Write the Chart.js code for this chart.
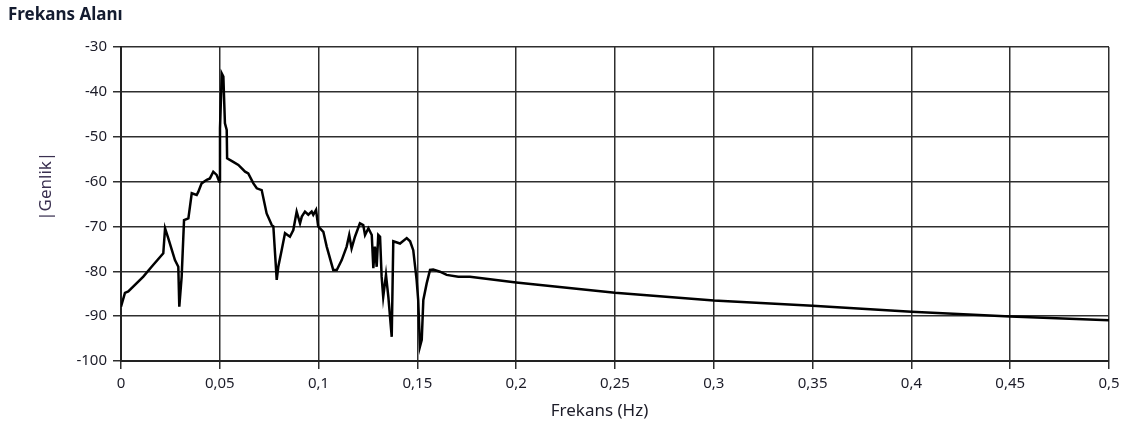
<!DOCTYPE html>
<html lang="tr">
<head>
    <meta charset="UTF-8">
    <title>Frekans Alanı</title>
    <script src="https://cdn.jsdelivr.net/npm/chart.js"></script>
    <style>
        body { margin: 0; background: #fff; }
    </style>
</head>
<body>

<canvas id="frekansChart" width="1126" height="427"></canvas>

<script>
    // spektrum verisi: frekans (Hz) ve genlik (dB)
    const frekans = [
        0.000, 0.0020, 0.0037, 0.0113, 0.0155, 0.0214, 0.0223, 0.0239, 0.0273, 0.0290,
        0.0295, 0.0307, 0.0319, 0.0341, 0.0349, 0.0358, 0.0383, 0.0391, 0.0408, 0.0434,
        0.0450, 0.0467, 0.0484, 0.0497, 0.0501, 0.0510, 0.0518, 0.0526, 0.0535, 0.0537,
        0.0568, 0.0594, 0.0628, 0.0644, 0.0670, 0.0687, 0.0712, 0.0737, 0.0763, 0.0771,
        0.0788, 0.0796, 0.0813, 0.0830, 0.0855, 0.0872, 0.0889, 0.0906, 0.0915, 0.0931,
        0.0948, 0.0965, 0.0973, 0.0987, 0.0998, 0.1024, 0.1041, 0.1074, 0.1092, 0.1117,
        0.1142, 0.1155, 0.1167, 0.1184, 0.1209, 0.1226, 0.1235, 0.1252, 0.1269, 0.1277,
        0.1285, 0.1294, 0.1302, 0.1311, 0.1319, 0.1327, 0.1341, 0.1353, 0.1370, 0.1378,
        0.1412, 0.1446, 0.1463, 0.1479, 0.1496, 0.1504, 0.1513, 0.1522, 0.1530, 0.1547,
        0.1564, 0.1580, 0.1614, 0.1648, 0.1707, 0.1766, 0.20, 0.25, 0.30, 0.35,
        0.40, 0.45, 0.50
    ];
    const genlik = [
        -87.9, -84.8, -84.5, -81.2, -79.0, -76.0, -70.4, -72.6, -77.5, -79.0,
        -87.9, -81.2, -68.6, -68.2, -65.6, -62.6, -63.0, -62.3, -60.4, -59.6,
        -59.3, -57.8, -58.5, -60.0, -48.1, -35.9, -36.6, -47.0, -48.5, -54.8,
        -55.6, -56.3, -57.8, -58.2, -60.4, -61.5, -61.9, -67.1, -69.7, -70.0,
        -81.9, -79.0, -75.3, -71.5, -72.3, -70.8, -66.7, -69.3, -67.8, -66.7,
        -67.4, -66.7, -67.4, -66.3, -70.0, -71.2, -74.5, -79.7, -79.7, -77.5,
        -74.5, -71.9, -74.9, -72.3, -69.3, -69.7, -71.9, -70.4, -71.9, -79.3,
        -74.5, -79.0, -71.9, -72.3, -81.2, -85.7, -80.8, -85.7, -94.6, -73.3,
        -73.8, -72.6, -73.3, -75.3, -81.9, -86.4, -96.8, -95.3, -86.4, -82.7,
        -79.7, -79.6, -80.1, -80.8, -81.2, -81.2, -82.5, -84.8, -86.5, -87.7,
        -89.0, -90.1, -90.9
    ];

    const yazi = '"Noto Sans", "Open Sans", sans-serif';
    const izgara = '#2e2e2e';

    const noktalar = frekans.map((f, i) => ({ x: f, y: genlik[i] }));

    const ctx = document.getElementById('frekansChart').getContext('2d');
    new Chart(ctx, {
        type: 'line',
        data: {
            datasets: [{
                data: noktalar,
                borderColor: '#000',
                borderWidth: 2.5,
                pointRadius: 0,
                tension: 0,
                fill: false
            }]
        },
        options: {
            responsive: false,
            animation: false,
            layout: { padding: { left: 8, right: 17, top: 0, bottom: 0 } },
            plugins: {
                legend: { display: false },
                tooltip: { enabled: false },
                title: {
                    display: true,
                    text: 'Frekans Alanı',
                    align: 'start',
                    color: '#141c30',
                    font: { family: yazi, size: 17, weight: 'bold' },
                    padding: { top: 5, bottom: 21.6 }
                }
            },
            scales: {
                x: {
                    type: 'linear',
                    min: 0,
                    max: 0.5,
                    afterFit: s => { s.height = 66; },
                    ticks: {
                        stepSize: 0.05,
                        padding: 6,
                        color: '#1c1c28',
                        font: { family: yazi, size: 15 },
                        maxRotation: 0,
                        callback: v => String(Math.round(v * 100) / 100).replace('.', ',')
                    },
                    grid: { color: izgara, lineWidth: 1.5, tickLength: 8 },
                    border: { color: '#222', width: 2 },
                    title: {
                        display: true,
                        text: 'Frekans (Hz)       ',
                        color: '#1c1c28',
                        font: { family: yazi, size: 17 },
                        padding: { top: 0, bottom: 6 }
                    }
                },
                y: {
                    min: -100,
                    max: -30,
                    afterFit: s => { s.width = 113; },
                    ticks: {
                        stepSize: 10,
                        padding: 6,
                        color: '#1c1c28',
                        font: { family: yazi, size: 15 },
                        callback: v => String(v)
                    },
                    grid: { color: izgara, lineWidth: 1.5, tickLength: 8 },
                    border: { color: '#222', width: 2 },
                    title: {
                        display: true,
                        text: '        |Genlik|',
                        color: '#3a3050',
                        font: { family: yazi, size: 17 },
                        padding: { top: 28, bottom: 0 }
                    }
                }
            }
        }
    });
</script>

</body>
</html>
